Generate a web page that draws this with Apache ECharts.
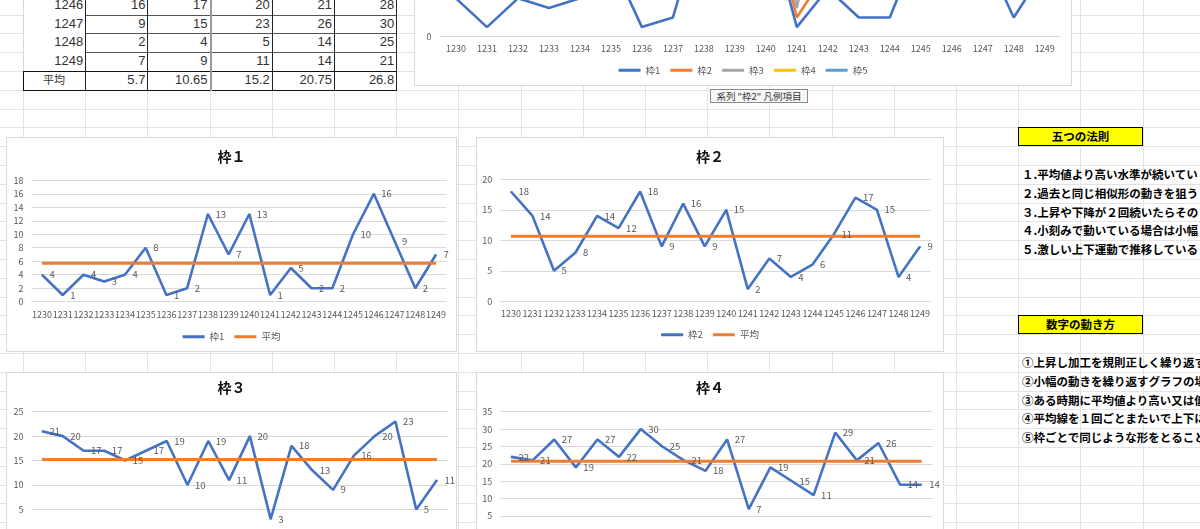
<!DOCTYPE html>
<html>
<head>
<meta charset="utf-8">
<script src="https://cdn.jsdelivr.net/npm/echarts@6/dist/echarts.min.js"></script>
<style>
html,body{margin:0;padding:0;width:1200px;height:529px;overflow:hidden;background:#fff;}
body{position:relative;font-family:"Noto Sans CJK JP","Noto Sans",sans-serif;}
.gl{position:absolute;background:#e3e3e3;}
.box{position:absolute;background:#fff;border:1px solid #d9d9d9;box-sizing:border-box;}
.chart{position:absolute;left:0;top:0;right:0;bottom:0;}
.cell{position:absolute;box-sizing:border-box;font-size:13px;color:#333;text-align:right;padding-right:2px;white-space:nowrap;font-family:"Liberation Sans","Noto Sans CJK JP",sans-serif;}
.ln{position:absolute;}
.txt{position:absolute;left:1022px;font-size:11.5px;font-weight:bold;color:#000;white-space:nowrap;}
.ybox{position:absolute;left:1018px;width:125px;height:19px;background:#ffff00;border:1px solid #000;box-sizing:border-box;font-size:11.5px;font-weight:bold;text-align:center;line-height:17px;color:#000;}
.tip{position:absolute;left:710px;top:89px;width:98px;height:14px;background:#f7f7f7;border:1px solid #8a8a8a;box-sizing:border-box;font-size:9.5px;color:#333;line-height:12px;text-align:center;white-space:nowrap;}
</style>
</head>
<body>
<div id="grid"></div>
<div id="table"></div>
<div class="box" style="left:414px;top:-360px;width:658px;height:446px;"><div id="cTop" class="chart"></div></div>
<div class="tip">系列 "枠2" 凡例項目</div>
<div class="box" style="left:6px;top:137px;width:451px;height:215px;"><div id="c1" class="chart"></div></div>
<div class="box" style="left:476px;top:137px;width:468px;height:215px;"><div id="c2" class="chart"></div></div>
<div class="box" style="left:6px;top:372px;width:451px;height:215px;"><div id="c3" class="chart"></div></div>
<div class="box" style="left:476px;top:372px;width:468px;height:215px;"><div id="c4" class="chart"></div></div>
<div id="panel"></div>
<script>
// ---------- data ----------
const cats = ['1230','1231','1232','1233','1234','1235','1236','1237','1238','1239','1240','1241','1242','1243','1244','1245','1246','1247','1248','1249'];
const waku1 = [4,1,4,3,4,8,1,2,13,7,13,1,5,2,2,10,16,9,2,7];
const waku2 = [18,14,5,8,14,12,18,9,16,9,15,2,7,4,6,11,17,15,4,9];
const waku3 = [21,20,17,17,15,17,19,10,19,11,20,3,18,13,9,16,20,23,5,11];
const waku4 = [22,21,27,19,27,22,30,25,21,18,27,7,19,15,11,29,21,26,14,14];
// 枠5: only the last four rows are visible in the table; earlier values are off-screen
const waku5 = [null,null,null,null,null,null,null,null,null,null,null,null,null,null,null,null,28,30,25,21];
const seriesNames = ['枠1','枠2','枠3','枠4','枠5'];
const avgLabel = '平均';
const avgs = [5.7, 10.65, 15.2, 20.75, 26.8];
const tableRows = ['1246','1247','1248','1249'];
const chartTitles = ['枠１','枠２','枠３','枠４'];
const yMax = [18, 20, 25, 35];
const yInterval = [2, 5, 5, 5];
const rulesTitle = '五つの法則';
const rules = ['１.平均値より高い水準が続いてい','２.過去と同じ相似形の動きを狙う','３.上昇や下降が２回続いたらその','４.小刻みで動いている場合は小幅','５.激しい上下運動で推移している'];
const movesTitle = '数字の動き方';
const moves = ['①上昇し加工を規則正しく繰り返す','②小幅の動きを繰り返すグラフの場','③ある時期に平均値より高い又は低','④平均線を１回ごとまたいで上下に','⑤枠ごとで同じような形をとること'];

const allWaku = [waku1, waku2, waku3, waku4, waku5];
const colors = ['#4472C4','#ED7D31','#A5A5A5','#FFC000','#5B9BD5'];
const FONT = '"Noto Sans CJK JP","Noto Sans",sans-serif';

// ---------- spreadsheet grid ----------
const colX = k => 23 + 62.2 * k;
const rowY = k => 14.5 + 18.8 * k;
(function(){
  const g = document.getElementById('grid');
  let h = '';
  for (let k = -1; k < 20; k++) { const x = Math.round(colX(k)); if (x>=0 && x<1200) h += `<div class="gl" style="left:${x}px;top:0;width:1px;height:529px"></div>`; }
  for (let k = -1; k < 28; k++) { const y = Math.round(rowY(k)); if (y>=0 && y<529) h += `<div class="gl" style="left:0;top:${y}px;width:1200px;height:1px"></div>`; }
  g.innerHTML = h;
})();

// ---------- table ----------
(function(){
  const t = document.getElementById('table');
  let h = '';
  const top0 = rowY(-1);
  // white background for table area
  h += `<div class="ln" style="left:${colX(0)}px;top:0;width:${colX(6)-colX(0)}px;height:${rowY(4)}px;background:#fff"></div>`;
  tableRows.forEach((r, i) => {
    const y = top0 + 18.8 * i;
    h += `<div class="cell" style="left:${colX(0)}px;top:${y}px;width:62.2px;height:18.8px;line-height:18.8px">${r}</div>`;
    allWaku.forEach((w, c) => {
      const v = w[cats.indexOf(r)];
      h += `<div class="cell" style="left:${colX(c+1)}px;top:${y}px;width:62.2px;height:18.8px;line-height:18.8px">${v}</div>`;
    });
  });
  const ya = top0 + 18.8 * 4;
  h += `<div class="cell" style="left:${colX(0)}px;top:${ya}px;width:62.2px;height:18.8px;line-height:18.8px;text-align:center;padding:0;font-size:11px;font-family:${FONT}">${avgLabel}</div>`;
  avgs.forEach((v, c) => {
    h += `<div class="cell" style="left:${colX(c+1)}px;top:${ya}px;width:62.2px;height:18.8px;line-height:18.8px">${v}</div>`;
  });
  // horizontal lines in value columns
  for (let k = 0; k <= 2; k++) h += `<div class="ln" style="left:${colX(1)}px;top:${Math.round(rowY(k))}px;width:${colX(6)-colX(1)}px;height:1px;background:#555"></div>`;
  h += `<div class="ln" style="left:${colX(0)}px;top:${Math.round(rowY(3))}px;width:${colX(6)-colX(0)+1}px;height:1px;background:#111"></div>`;
  h += `<div class="ln" style="left:${colX(0)}px;top:${Math.round(rowY(4))}px;width:${colX(6)-colX(0)+1}px;height:1px;background:#111"></div>`;
  // vertical lines
  for (let c = 1; c <= 6; c++) {
    const col = c === 3 ? '#9a9a9a' : '#222';
    const w = c === 3 ? 2 : 1;
    h += `<div class="ln" style="left:${Math.round(colX(c))}px;top:0;width:${w}px;height:${Math.round(rowY(4))+1}px;background:${col}"></div>`;
  }
  h += `<div class="ln" style="left:${Math.round(colX(0))}px;top:0;width:1px;height:${Math.round(rowY(3))}px;background:#cfd8e3"></div>`;
  h += `<div class="ln" style="left:${Math.round(colX(0))}px;top:${Math.round(rowY(3))}px;width:1px;height:${Math.round(rowY(4)-rowY(3))+1}px;background:#111"></div>`;
  t.innerHTML = h;
})();

// ---------- right panel ----------
(function(){
  const p = document.getElementById('panel');
  let h = '';
  h += `<div class="ybox" style="top:${Math.round(rowY(6))}px">${rulesTitle}</div>`;
  rules.forEach((s, i) => { h += `<div class="txt" style="top:${rowY(8+i)}px;line-height:18.8px">${s}</div>`; });
  h += `<div class="ybox" style="top:${Math.round(rowY(16))}px">${movesTitle}</div>`;
  moves.forEach((s, i) => { h += `<div class="txt" style="top:${rowY(18+i)}px;line-height:18.8px">${s}</div>`; });
  p.innerHTML = h;
})();

// ---------- charts ----------
function baseAxes(max, interval, labelMargin) {
  return {
    xAxis: { type:'category', data:cats, boundaryGap:true,
      axisLine:{ show:true, lineStyle:{ color:'#d9d9d9', width:1 } },
      axisTick:{ show:false }, splitLine:{ show:false },
      axisLabel:{ interval:0, color:'#595959', fontSize:9, margin:labelMargin, fontFamily:FONT, hideOverlap:false } },
    yAxis: { type:'value', min:0, max:max, interval:interval,
      axisLine:{ show:false }, axisTick:{ show:false },
      splitLine:{ show:true, lineStyle:{ color:'#d9d9d9', width:1 } },
      axisLabel:{ color:'#595959', fontSize:9, margin:8, fontFamily:FONT } }
  };
}

function smallChart(id, idx, grid, titleTop, legendTop) {
  const el = document.getElementById(id);
  const ch = echarts.init(el, null, { renderer:'canvas' });
  const ax = baseAxes(yMax[idx], yInterval[idx], 8);
  const w = allWaku[idx];
  ch.setOption({
    animation:false,
    title:{ text:chartTitles[idx], left:'center', top:titleTop, padding:0,
      textStyle:{ fontSize:14, fontWeight:'bold', color:'#111', fontFamily:FONT } },
    legend:{ data:[seriesNames[idx], avgLabel], left:'center', top:legendTop, padding:0,
      icon:'rect', itemWidth:22, itemHeight:3, itemGap:10,
      textStyle:{ color:'#595959', fontSize:9.5, fontFamily:FONT } },
    grid:Object.assign({ outerBoundsMode:'none', containLabel:false }, grid),
    xAxis:ax.xAxis, yAxis:ax.yAxis,
    series:[
      { name:seriesNames[idx], type:'line', data:w, symbol:'circle', symbolSize:1,
        lineStyle:{ color:colors[0], width:2.6 }, itemStyle:{ color:colors[0] },
        label:{ show:true, position:'right', distance:7, color:'#595959', fontSize:9.5, fontFamily:FONT } },
      { name:avgLabel, type:'line', data:cats.map(() => avgs[idx]), symbol:'none',
        lineStyle:{ color:colors[1], width:3 }, itemStyle:{ color:colors[1] } }
    ]
  });
}

smallChart('c1', 0, { left:24.6, right:9.6, top:42.3, bottom:49.3 }, 12, 194);
smallChart('c2', 1, { left:23.2, right:12.2, top:41.3, bottom:49.7 }, 12, 192);
smallChart('c3', 2, { left:24.6, right:8.6, top:38.7, bottom:52.2 }, 8, 194);
smallChart('c4', 3, { left:23.2, right:10.5, top:38.7, bottom:52.6 }, 8, 194);

(function(){
  const ch = echarts.init(document.getElementById('cTop'), null, { renderer:'canvas' });
  const ax = baseAxes(35, 5, 7);
  ax.yAxis.axisLabel.margin = 9;
  ch.setOption({
    animation:false,
    legend:{ data:seriesNames, left:'center', top:424.5, padding:0,
      icon:'rect', itemWidth:22, itemHeight:3, itemGap:10,
      textStyle:{ color:'#595959', fontSize:9.5, fontFamily:FONT } },
    grid:{ left:25.5, right:10.8, top:60, bottom:48.3, outerBoundsMode:'none', containLabel:false },
    xAxis:ax.xAxis, yAxis:ax.yAxis,
    series: allWaku.map((w, i) => ({
      name:seriesNames[i], type:'line', data:w, symbol:'none', connectNulls:false,
      lineStyle:{ color:colors[i], width:2.6 }, itemStyle:{ color:colors[i] }
    }))
  });
})();
</script>
</body>
</html>
